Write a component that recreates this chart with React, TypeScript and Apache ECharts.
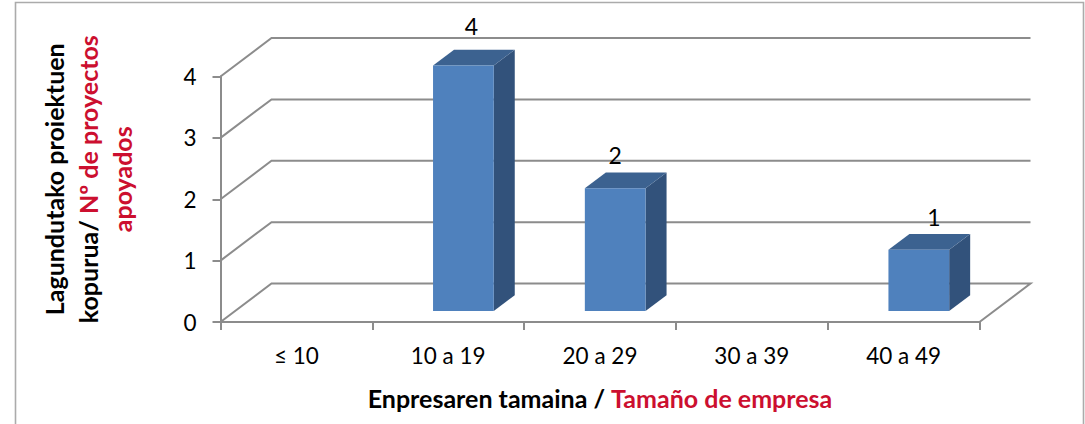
import React, { useEffect, useRef } from "react";
import * as echarts from "echarts";

const categories = ["≤ 10", "10 a 19", "20 a 29", "30 a 39", "40 a 49"];
const projectCounts = [null, 4, 2, null, 1];
const wallTicks = [0, 1, 2, 3, 4];
const xNameBlack = "Enpresaren tamaina / ";
const xNameRed = "Tamaño de empresa";

const FONT = "Lato, Carlito, sans-serif";
const GRAY = "#8c8c8c";
const RED = "#CC0F2F";
const LINE_W = 2;
const WALL_DX = 51;
const WALL_DY = -38.5;
const BAR_OFFSET_X = 15.2;
const BAR_OFFSET_Y = -11;
const BAR_DX = 21;
const BAR_DY = -15.7;
const LABEL_NUDGE: Record<number, [number, number]> = {
  1: [8, -40],
  2: [0, -33],
  4: [15, -33],
};

function renderWall(params: any, api: any) {
  const v = api.value(1);
  const band = api.size([1, 0])[0];
  const c0 = api.coord([0, v]);
  const x0 = c0[0] - band / 2;
  const y0 = c0[1];
  const lastX = x0 + band * categories.length;
  const children: any[] = [
    {
      type: "polyline",
      shape: {
        points: [
          [x0, y0],
          [x0 + WALL_DX, y0 + WALL_DY],
          [lastX + WALL_DX, y0 + WALL_DY],
          ...(v === 0 ? [[lastX, y0]] : []),
        ],
      },
      style: { stroke: GRAY, lineWidth: LINE_W, fill: "none" },
    },
  ];
  return { type: "group", children };
}

function renderBar(params: any, api: any) {
  const idx = api.value(0);
  const v = api.value(1);
  const band = api.size([1, 0])[0];
  const width = band * 0.4;
  const top = api.coord([idx, v]);
  const base = api.coord([idx, 0]);
  const xl = top[0] - width / 2 + BAR_OFFSET_X;
  const xr = xl + width;
  const yt = top[1] + BAR_OFFSET_Y;
  const yb = base[1] + BAR_OFFSET_Y;
  const nudge = LABEL_NUDGE[idx] || [0, -32];
  return {
    type: "group",
    children: [
      {
        type: "polygon",
        shape: { points: [[xr, yt], [xr + BAR_DX, yt + BAR_DY], [xr + BAR_DX, yb + BAR_DY], [xr, yb]] },
        style: { fill: "#32527B" },
      },
      {
        type: "polygon",
        shape: { points: [[xl, yt], [xl + BAR_DX, yt + BAR_DY], [xr + BAR_DX, yt + BAR_DY], [xr, yt]] },
        style: { fill: "#3C6290" },
      },
      {
        type: "rect",
        shape: { x: xl, y: yt, width, height: yb - yt },
        style: { fill: "#4F81BD" },
      },
      {
        type: "text",
        x: (xl + xr) / 2 + nudge[0],
        y: yt + nudge[1],
        style: {
          text: String(v),
          fill: "#000",
          font: `23px ${FONT}`,
          align: "center",
          verticalAlign: "middle",
        },
      },
    ],
  };
}

export default function App() {
  const ref = useRef<HTMLDivElement>(null);
  useEffect(() => {
    document.body.style.margin = "0";
    document.body.style.overflow = "hidden";
    const chart = echarts.init(ref.current!, null, { renderer: "svg" });
    chart.setOption({
      animation: false,
      backgroundColor: "#fff",
      graphic: [
        {
          type: "rect",
          silent: true,
          shape: { x: 15.5, y: 2.5, width: 1068, height: 440 },
          style: { fill: "none", stroke: "#ababab", lineWidth: 1.6 },
        },
      ],
      grid: { left: 220.5, top: 76.5, width: 759, height: 245.5, outerBoundsMode: "none" },
      xAxis: {
        type: "category",
        data: categories,
        axisLine: { lineStyle: { color: GRAY, width: LINE_W } },
        axisTick: { show: true, alignWithLabel: false, length: 8, lineStyle: { color: GRAY, width: LINE_W } },
        axisLabel: { color: "#000", fontFamily: FONT, fontSize: 22.5, margin: 22 },
        name: `{b|${xNameBlack}}{r|${xNameRed}}`,
        nameLocation: "middle",
        nameGap: 63,
        nameTextStyle: {
          rich: {
            b: { color: "#000", fontFamily: FONT, fontWeight: "bold", fontSize: 25 },
            r: { color: RED, fontFamily: FONT, fontWeight: "bold", fontSize: 25 },
          },
        },
      },
      yAxis: {
        type: "value",
        min: 0,
        max: 4,
        interval: 1,
        splitLine: { show: false },
        axisLine: { show: true, lineStyle: { color: GRAY, width: LINE_W } },
        axisTick: { show: true, length: 8, lineStyle: { color: GRAY, width: LINE_W } },
        axisLabel: { color: "#000", fontFamily: FONT, fontSize: 22.5, margin: 24 },
        name: "{b|Lagundutako proiektuen}\n{b|kopurua/ }{r|Nº de proyectos}\n{r|apoyados}",
        nameLocation: "middle",
        nameGap: 81.5,
        nameRotate: 90,
        nameTextStyle: {
          align: "center",
          padding: [0, 0, 0, 40],
          lineHeight: 34,
          rich: {
            b: { color: "#000", fontFamily: FONT, fontWeight: "bold", fontSize: 25, lineHeight: 34 },
            r: { color: RED, fontFamily: FONT, fontWeight: "bold", fontSize: 25, lineHeight: 34 },
          },
        },
      },
      series: [
        {
          type: "custom",
          z: 1,
          silent: true,
          clip: false,
          renderItem: renderWall,
          data: wallTicks.map((t) => [0, t]),
          encode: { x: 0, y: 1 },
        },
        {
          type: "custom",
          z: 2,
          silent: true,
          clip: false,
          renderItem: renderBar,
          data: projectCounts
            .map((v, i) => [i, v])
            .filter((d) => d[1] !== null),
          encode: { x: 0, y: 1 },
        },
      ],
    });
    return () => chart.dispose();
  }, []);
  return <div ref={ref} style={{ width: 1085, height: 424 }} />;
}
